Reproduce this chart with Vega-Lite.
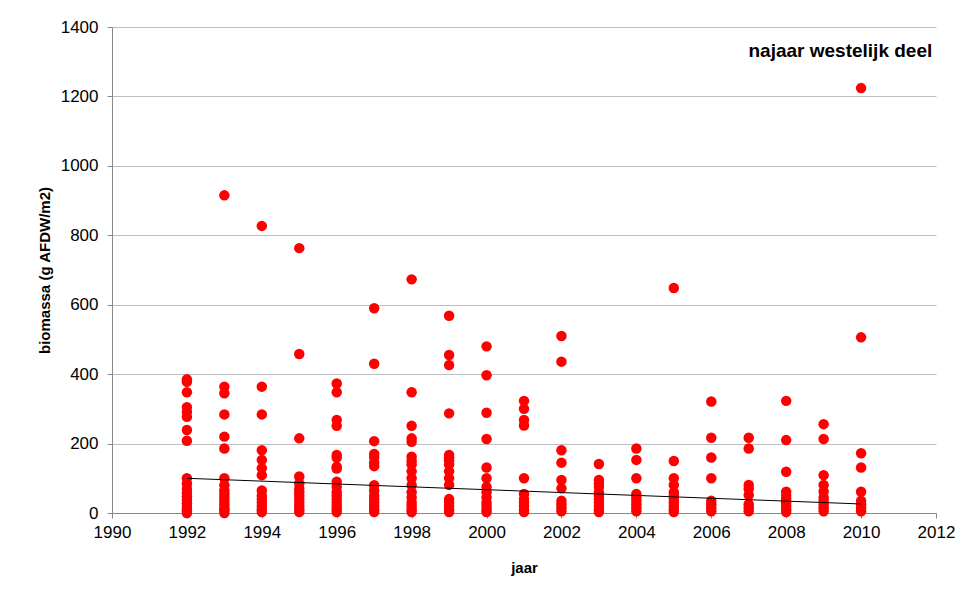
{
  "$schema": "https://vega.github.io/schema/vega-lite/v6.json",
  "autosize": "none",
  "width": 824,
  "height": 486,
  "padding": {"left": 112, "top": 27, "right": 19, "bottom": 82},
  "background": "white",
  "config": {
    "view": {"stroke": null},
    "font": "Liberation Sans",
    "axis": {
      "labelFont": "Liberation Sans",
      "labelFontSize": 17,
      "labelColor": "#000000",
      "titleFont": "Liberation Sans",
      "titleFontSize": 15,
      "titleFontWeight": "bold",
      "titleColor": "#000000",
      "domainColor": "#888888",
      "tickColor": "#888888",
      "tickSize": 5,
      "gridColor": "#BEBEBE",
      "gridWidth": 1
    }
  },
  "datasets": {
    "pts": [
      {"jaar":1992,"biomassa":385},{"jaar":1992,"biomassa":378},{"jaar":1992,"biomassa":348},{"jaar":1992,"biomassa":305},{"jaar":1992,"biomassa":292},{"jaar":1992,"biomassa":277},{"jaar":1992,"biomassa":239},{"jaar":1992,"biomassa":208},{"jaar":1992,"biomassa":100},{"jaar":1992,"biomassa":85},{"jaar":1992,"biomassa":70},{"jaar":1992,"biomassa":58},{"jaar":1992,"biomassa":48},{"jaar":1992,"biomassa":38},{"jaar":1992,"biomassa":28},{"jaar":1992,"biomassa":20},{"jaar":1992,"biomassa":12},{"jaar":1992,"biomassa":5},{"jaar":1992,"biomassa":0},
      {"jaar":1993,"biomassa":915},{"jaar":1993,"biomassa":364},{"jaar":1993,"biomassa":345},{"jaar":1993,"biomassa":284},{"jaar":1993,"biomassa":220},{"jaar":1993,"biomassa":186},{"jaar":1993,"biomassa":100},{"jaar":1993,"biomassa":80},{"jaar":1993,"biomassa":65},{"jaar":1993,"biomassa":55},{"jaar":1993,"biomassa":45},{"jaar":1993,"biomassa":35},{"jaar":1993,"biomassa":25},{"jaar":1993,"biomassa":15},{"jaar":1993,"biomassa":8},{"jaar":1993,"biomassa":0},
      {"jaar":1994,"biomassa":827},{"jaar":1994,"biomassa":364},{"jaar":1994,"biomassa":284},{"jaar":1994,"biomassa":181},{"jaar":1994,"biomassa":153},{"jaar":1994,"biomassa":129},{"jaar":1994,"biomassa":109},{"jaar":1994,"biomassa":65},{"jaar":1994,"biomassa":50},{"jaar":1994,"biomassa":40},{"jaar":1994,"biomassa":30},{"jaar":1994,"biomassa":20},{"jaar":1994,"biomassa":10},{"jaar":1994,"biomassa":3},
      {"jaar":1995,"biomassa":763},{"jaar":1995,"biomassa":458},{"jaar":1995,"biomassa":215},{"jaar":1995,"biomassa":105},{"jaar":1995,"biomassa":85},{"jaar":1995,"biomassa":70},{"jaar":1995,"biomassa":60},{"jaar":1995,"biomassa":50},{"jaar":1995,"biomassa":40},{"jaar":1995,"biomassa":30},{"jaar":1995,"biomassa":20},{"jaar":1995,"biomassa":10},{"jaar":1995,"biomassa":3},
      {"jaar":1996,"biomassa":373},{"jaar":1996,"biomassa":348},{"jaar":1996,"biomassa":268},{"jaar":1996,"biomassa":251},{"jaar":1996,"biomassa":167},{"jaar":1996,"biomassa":160},{"jaar":1996,"biomassa":133},{"jaar":1996,"biomassa":128},{"jaar":1996,"biomassa":90},{"jaar":1996,"biomassa":75},{"jaar":1996,"biomassa":60},{"jaar":1996,"biomassa":50},{"jaar":1996,"biomassa":40},{"jaar":1996,"biomassa":30},{"jaar":1996,"biomassa":20},{"jaar":1996,"biomassa":10},{"jaar":1996,"biomassa":3},
      {"jaar":1997,"biomassa":590},{"jaar":1997,"biomassa":430},{"jaar":1997,"biomassa":207},{"jaar":1997,"biomassa":170},{"jaar":1997,"biomassa":160},{"jaar":1997,"biomassa":145},{"jaar":1997,"biomassa":135},{"jaar":1997,"biomassa":80},{"jaar":1997,"biomassa":65},{"jaar":1997,"biomassa":50},{"jaar":1997,"biomassa":40},{"jaar":1997,"biomassa":30},{"jaar":1997,"biomassa":20},{"jaar":1997,"biomassa":10},{"jaar":1997,"biomassa":3},
      {"jaar":1998,"biomassa":673},{"jaar":1998,"biomassa":348},{"jaar":1998,"biomassa":251},{"jaar":1998,"biomassa":215},{"jaar":1998,"biomassa":205},{"jaar":1998,"biomassa":162},{"jaar":1998,"biomassa":150},{"jaar":1998,"biomassa":140},{"jaar":1998,"biomassa":120},{"jaar":1998,"biomassa":100},{"jaar":1998,"biomassa":80},{"jaar":1998,"biomassa":60},{"jaar":1998,"biomassa":45},{"jaar":1998,"biomassa":30},{"jaar":1998,"biomassa":20},{"jaar":1998,"biomassa":10},{"jaar":1998,"biomassa":3},
      {"jaar":1999,"biomassa":568},{"jaar":1999,"biomassa":455},{"jaar":1999,"biomassa":426},{"jaar":1999,"biomassa":287},{"jaar":1999,"biomassa":167},{"jaar":1999,"biomassa":160},{"jaar":1999,"biomassa":152},{"jaar":1999,"biomassa":140},{"jaar":1999,"biomassa":120},{"jaar":1999,"biomassa":100},{"jaar":1999,"biomassa":81},{"jaar":1999,"biomassa":40},{"jaar":1999,"biomassa":30},{"jaar":1999,"biomassa":20},{"jaar":1999,"biomassa":10},{"jaar":1999,"biomassa":3},
      {"jaar":2000,"biomassa":480},{"jaar":2000,"biomassa":397},{"jaar":2000,"biomassa":289},{"jaar":2000,"biomassa":213},{"jaar":2000,"biomassa":131},{"jaar":2000,"biomassa":100},{"jaar":2000,"biomassa":75},{"jaar":2000,"biomassa":60},{"jaar":2000,"biomassa":45},{"jaar":2000,"biomassa":30},{"jaar":2000,"biomassa":20},{"jaar":2000,"biomassa":10},{"jaar":2000,"biomassa":3},
      {"jaar":2001,"biomassa":323},{"jaar":2001,"biomassa":300},{"jaar":2001,"biomassa":268},{"jaar":2001,"biomassa":252},{"jaar":2001,"biomassa":100},{"jaar":2001,"biomassa":55},{"jaar":2001,"biomassa":40},{"jaar":2001,"biomassa":30},{"jaar":2001,"biomassa":20},{"jaar":2001,"biomassa":10},{"jaar":2001,"biomassa":3},
      {"jaar":2002,"biomassa":510},{"jaar":2002,"biomassa":436},{"jaar":2002,"biomassa":181},{"jaar":2002,"biomassa":145},{"jaar":2002,"biomassa":95},{"jaar":2002,"biomassa":71},{"jaar":2002,"biomassa":35},{"jaar":2002,"biomassa":25},{"jaar":2002,"biomassa":15},{"jaar":2002,"biomassa":5},
      {"jaar":2003,"biomassa":141},{"jaar":2003,"biomassa":95},{"jaar":2003,"biomassa":85},{"jaar":2003,"biomassa":75},{"jaar":2003,"biomassa":60},{"jaar":2003,"biomassa":50},{"jaar":2003,"biomassa":40},{"jaar":2003,"biomassa":30},{"jaar":2003,"biomassa":20},{"jaar":2003,"biomassa":10},{"jaar":2003,"biomassa":3},
      {"jaar":2004,"biomassa":186},{"jaar":2004,"biomassa":153},{"jaar":2004,"biomassa":100},{"jaar":2004,"biomassa":55},{"jaar":2004,"biomassa":45},{"jaar":2004,"biomassa":35},{"jaar":2004,"biomassa":25},{"jaar":2004,"biomassa":15},{"jaar":2004,"biomassa":5},
      {"jaar":2005,"biomassa":648},{"jaar":2005,"biomassa":150},{"jaar":2005,"biomassa":100},{"jaar":2005,"biomassa":81},{"jaar":2005,"biomassa":60},{"jaar":2005,"biomassa":50},{"jaar":2005,"biomassa":40},{"jaar":2005,"biomassa":30},{"jaar":2005,"biomassa":20},{"jaar":2005,"biomassa":10},{"jaar":2005,"biomassa":3},
      {"jaar":2006,"biomassa":321},{"jaar":2006,"biomassa":217},{"jaar":2006,"biomassa":160},{"jaar":2006,"biomassa":100},{"jaar":2006,"biomassa":35},{"jaar":2006,"biomassa":25},{"jaar":2006,"biomassa":15},{"jaar":2006,"biomassa":5},
      {"jaar":2007,"biomassa":217},{"jaar":2007,"biomassa":186},{"jaar":2007,"biomassa":81},{"jaar":2007,"biomassa":70},{"jaar":2007,"biomassa":52},{"jaar":2007,"biomassa":25},{"jaar":2007,"biomassa":15},{"jaar":2007,"biomassa":5},
      {"jaar":2008,"biomassa":323},{"jaar":2008,"biomassa":210},{"jaar":2008,"biomassa":119},{"jaar":2008,"biomassa":61},{"jaar":2008,"biomassa":50},{"jaar":2008,"biomassa":40},{"jaar":2008,"biomassa":30},{"jaar":2008,"biomassa":20},{"jaar":2008,"biomassa":10},{"jaar":2008,"biomassa":3},
      {"jaar":2009,"biomassa":256},{"jaar":2009,"biomassa":213},{"jaar":2009,"biomassa":109},{"jaar":2009,"biomassa":81},{"jaar":2009,"biomassa":62},{"jaar":2009,"biomassa":45},{"jaar":2009,"biomassa":35},{"jaar":2009,"biomassa":25},{"jaar":2009,"biomassa":15},{"jaar":2009,"biomassa":5},
      {"jaar":2010,"biomassa":1224},{"jaar":2010,"biomassa":506},{"jaar":2010,"biomassa":172},{"jaar":2010,"biomassa":131},{"jaar":2010,"biomassa":61},{"jaar":2010,"biomassa":35},{"jaar":2010,"biomassa":25},{"jaar":2010,"biomassa":15},{"jaar":2010,"biomassa":5}
    ],
    "trend": [
      {"jaar":1992,"biomassa":100},
      {"jaar":2010,"biomassa":26}
    ],
    "label": [
      {"jaar":2011.9,"biomassa":1330,"tekst":"najaar westelijk deel"}
    ]
  },
  "layer": [
    {
      "data": {"name": "pts"},
      "mark": {"type": "point", "filled": true, "shape": "circle", "size": 110, "color": "#FF0000", "opacity": 1},
      "encoding": {
        "x": {
          "field": "jaar", "type": "quantitative",
          "scale": {"domain": [1990, 2012], "nice": false, "zero": false},
          "axis": {
            "title": "jaar", "grid": false, "values": [1990,1992,1994,1996,1998,2000,2002,2004,2006,2008,2010,2012],
            "format": "d", "labelPadding": 6, "titlePadding": 20, "labelFlush": false
          }
        },
        "y": {
          "field": "biomassa", "type": "quantitative",
          "scale": {"domain": [0, 1400], "nice": false},
          "axis": {
            "title": "biomassa (g AFDW/m2)", "grid": true, "values": [0,200,400,600,800,1000,1200,1400],
            "format": "d", "labelPadding": 9, "titlePadding": 8
          }
        }
      }
    },
    {
      "data": {"name": "trend"},
      "mark": {"type": "line", "color": "#000000", "strokeWidth": 1},
      "encoding": {
        "x": {"field": "jaar", "type": "quantitative"},
        "y": {"field": "biomassa", "type": "quantitative"}
      }
    },
    {
      "data": {"name": "label"},
      "mark": {"type": "text", "align": "right", "baseline": "middle", "font": "Liberation Sans", "fontWeight": "bold", "fontSize": 19, "color": "#000000"},
      "encoding": {
        "x": {"field": "jaar", "type": "quantitative"},
        "y": {"field": "biomassa", "type": "quantitative"},
        "text": {"field": "tekst"}
      }
    }
  ]
}
